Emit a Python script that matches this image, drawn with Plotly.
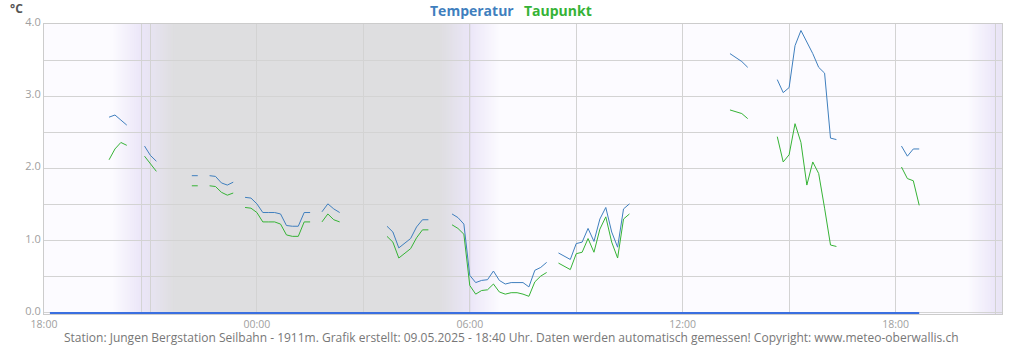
import pandas as pd
import plotly.graph_objects as go

# ---------------- data (10-minute values, 08.05.2025 18:00 -> 09.05.2025 18:40) ----------------
start_time = "2025-05-08 18:00"
n_points = 149

temperatur = [
    None, None, None, None, None, None,          # 18:00
    None, None, None, None, None, 2.71,          # 19:00
    2.74, 2.67, 2.60, None, None, 2.31,          # 20:00
    2.18, 2.10, None, None, None, None,          # 21:00
    None, 1.90, 1.90, None, 1.90, 1.89,          # 22:00
    1.80, 1.77, 1.81, None, 1.60, 1.59,          # 23:00
    1.51, 1.39, 1.39, 1.39, 1.37, 1.21,          # 00:00
    1.20, 1.20, 1.39, 1.39, None, 1.40,          # 01:00
    1.51, 1.44, 1.39, None, None, None,          # 02:00
    None, None, None, None, 1.20, 1.12,          # 03:00
    0.90, 0.96, 1.03, 1.19, 1.29, 1.29,          # 04:00
    None, None, None, 1.37, 1.32, 1.23,          # 05:00
    0.52, 0.42, 0.45, 0.46, 0.58, 0.45,          # 06:00
    0.40, 0.42, 0.42, 0.42, 0.36, 0.59,          # 07:00
    0.63, 0.70, None, 0.83, 0.79, 0.74,          # 08:00
    0.96, 0.98, 1.17, 0.99, 1.30, 1.46,          # 09:00
    1.12, 0.91, 1.44, 1.51, None, None,          # 10:00
    None, None, None, None, None, None,          # 11:00
    None, None, None, None, None, None,          # 12:00
    None, None, 3.59, 3.53, 3.48, 3.40,          # 13:00
    None, None, None, None, 3.23, 3.05,          # 14:00
    3.12, 3.70, 3.91, 3.75, 3.59, 3.40,          # 15:00
    3.32, 2.42, 2.40, None, None, None,          # 16:00
    None, None, None, None, None, None,          # 17:00
    None, 2.31, 2.17, 2.27, 2.27,                # 18:00
]

taupunkt = [
    None, None, None, None, None, None,          # 18:00
    None, None, None, None, None, 2.12,          # 19:00
    2.27, 2.36, 2.32, None, None, 2.17,          # 20:00
    2.06, 1.96, None, None, None, None,          # 21:00
    None, 1.76, 1.76, None, 1.76, 1.75,          # 22:00
    1.67, 1.63, 1.66, None, 1.46, 1.45,          # 23:00
    1.39, 1.26, 1.26, 1.26, 1.23, 1.08,          # 00:00
    1.06, 1.06, 1.26, 1.26, None, 1.26,          # 01:00
    1.37, 1.29, 1.26, None, None, None,          # 02:00
    None, None, None, None, 1.06, 0.98,          # 03:00
    0.76, 0.82, 0.89, 1.04, 1.15, 1.15,          # 04:00
    None, None, None, 1.22, 1.17, 1.09,          # 05:00
    0.38, 0.26, 0.31, 0.32, 0.40, 0.29,          # 06:00
    0.26, 0.28, 0.28, 0.26, 0.23, 0.43,          # 07:00
    0.51, 0.56, None, 0.69, 0.65, 0.60,          # 08:00
    0.82, 0.84, 1.03, 0.84, 1.16, 1.33,          # 09:00
    0.98, 0.76, 1.30, 1.37, None, None,          # 10:00
    None, None, None, None, None, None,          # 11:00
    None, None, None, None, None, None,          # 12:00
    None, None, 2.81, 2.79, 2.76, 2.69,          # 13:00
    None, None, None, None, 2.44, 2.09,          # 14:00
    2.19, 2.62, 2.36, 1.77, 2.09, 1.93,          # 15:00
    1.45, 0.94, 0.92, None, None, None,          # 16:00
    None, None, None, None, None, None,          # 17:00
    None, 2.02, 1.86, 1.83, 1.49,                # 18:00
]

# zero baseline series (0.0 over the measured period)
baseline_time = ["2025-05-08 18:10", "2025-05-09 18:40"]
baseline_value = [0.0, 0.0]

x_range = ["2025-05-08 18:00", "2025-05-09 21:00"]
y_range = [-0.015, 4.0]
y_tickvals = [0, 1, 2, 3, 4]
y_ticktext = ["0.0", "1.0", "2.0", "3.0", "4.0"]

sunset_1 = pd.Timestamp("2025-05-08 20:45")
sunrise = pd.Timestamp("2025-05-09 06:00")
sunset_2 = pd.Timestamp("2025-05-09 20:49")

legend_names = ["Temperatur", "Taupunkt"]
footer = ("Station: Jungen Bergstation Seilbahn - 1911m. Grafik erstellt: 09.05.2025 - 18:40 Uhr. "
          "Daten werden automatisch gemessen! Copyright: www.meteo-oberwallis.ch")

# ---------------- styles ----------------
C_TEMP = "#3f7fbe"
C_DEW = "#36b336"
C_BASE = "#3a6fe0"
C_GRID = "#d3d3d3"
DAY = (252, 251, 255)
TWI = (235, 230, 248)
NIGHT = (222, 222, 224)
FONT = "Open Sans"

times = pd.date_range(start_time, periods=n_points, freq="10min")

shapes = []


def rgb(c):
    return "rgb(%d,%d,%d)" % c


def lerp(c0, c1, f):
    return tuple(round(a + (b - a) * f) for a, b in zip(c0, c1))


def band(t0, t1, color):
    shapes.append(dict(type="rect", xref="x", yref="paper", x0=t0, x1=t1, y0=0, y1=1,
                       fillcolor=rgb(color), line=dict(width=0), layer="below"))


def gradient(t0, t1, c0, c1, n=30, stop=None):
    edges = pd.date_range(t0, t1, periods=n + 1)
    for i in range(n):
        if stop is not None and edges[i] >= stop:
            break
        f = (i + 0.5) / n
        e1 = edges[min(i + 2, n)]
        band(edges[i], e1, lerp(c0, c1, f))


m = pd.Timedelta(minutes=1)
gradient(sunset_1 - 50 * m, sunset_1, DAY, TWI)
gradient(sunset_1, sunset_1 + 56 * m, TWI, NIGHT)
band(sunset_1 + 55 * m, sunrise - 50 * m, NIGHT)
gradient(sunrise - 51 * m, sunrise, NIGHT, TWI)
gradient(sunrise, sunrise + 51 * m, TWI, DAY)
gradient(sunset_2 - 47 * m, sunset_2, DAY, TWI)
gradient(sunset_2, sunset_2 + 56 * m, TWI, NIGHT, stop=pd.Timestamp(x_range[1]))

for t in (sunset_1, sunrise, sunset_2):
    shapes.append(dict(type="line", xref="x", yref="paper", x0=t, x1=t, y0=0, y1=1,
                       line=dict(color=C_GRID, width=1), layer="below"))

fig = go.Figure()
fig.add_trace(go.Scatter(x=times, y=temperatur, mode="lines", name=legend_names[0],
                         line=dict(color=C_TEMP, width=1), connectgaps=False))
fig.add_trace(go.Scatter(x=times, y=taupunkt, mode="lines", name=legend_names[1],
                         line=dict(color=C_DEW, width=1), connectgaps=False))
fig.add_trace(go.Scatter(x=pd.to_datetime(baseline_time), y=baseline_value, mode="lines",
                         line=dict(color=C_BASE, width=2), showlegend=False))

annotations = [
    dict(text="<b>°C</b>", xref="paper", yref="paper", x=-0.029, y=1, yshift=15.5,
         xanchor="center", yanchor="middle", showarrow=False,
         font=dict(family=FONT, size=12, color="#555555")),
    dict(text="<b>%s</b>" % legend_names[0], xref="paper", yref="paper",
         x=(471.7 - 44) / 958, y=1, yshift=14, xanchor="center", yanchor="middle",
         showarrow=False, font=dict(family=FONT, size=14, color=C_TEMP)),
    dict(text="<b>%s</b>" % legend_names[1], xref="paper", yref="paper",
         x=(558.3 - 44) / 958, y=1, yshift=14, xanchor="center", yanchor="middle",
         showarrow=False, font=dict(family=FONT, size=14, color=C_DEW)),
    dict(text=footer, xref="paper", yref="paper", x=(511.5 - 44) / 958, y=0, yshift=-23,
         xanchor="center", yanchor="middle", showarrow=False,
         font=dict(family=FONT, size=12, color="#777777")),
]

fig.update_layout(
    width=1024, height=350,
    margin=dict(l=44, r=22, t=24, b=36),
    paper_bgcolor="white", plot_bgcolor=rgb(DAY),
    showlegend=False, shapes=shapes, annotations=annotations,
    font=dict(family=FONT, size=11, color="#a0a0a0"),
)
fig.update_xaxes(
    type="date", range=x_range, tick0="2025-05-08 18:00", dtick=6 * 3600 * 1000,
    tickformat="%H:%M", showgrid=True, gridcolor=C_GRID, gridwidth=1,
    minor=dict(dtick=3 * 3600 * 1000, showgrid=True, gridcolor=C_GRID, gridwidth=1),
    showline=True, mirror=True, linecolor="#cccccc", linewidth=1,
    zeroline=False, ticks="", layer="below traces",
    tickfont=dict(family=FONT, size=10.5, color="#a0a0a0"),
)
fig.update_yaxes(
    range=y_range, tickvals=y_tickvals, ticktext=y_ticktext,
    showgrid=True, gridcolor=C_GRID, gridwidth=1,
    minor=dict(tick0=0, dtick=0.5, showgrid=True, gridcolor=C_GRID, gridwidth=1),
    showline=True, mirror=True, linecolor="#cccccc", linewidth=1,
    zeroline=False, ticks="", layer="below traces", ticklabelshift=-2,
    tickfont=dict(family=FONT, size=11, color="#a0a0a0"),
)

fig.write_html("out.html", config={"displayModeBar": False},
               post_script="document.body.style.margin='0';")
